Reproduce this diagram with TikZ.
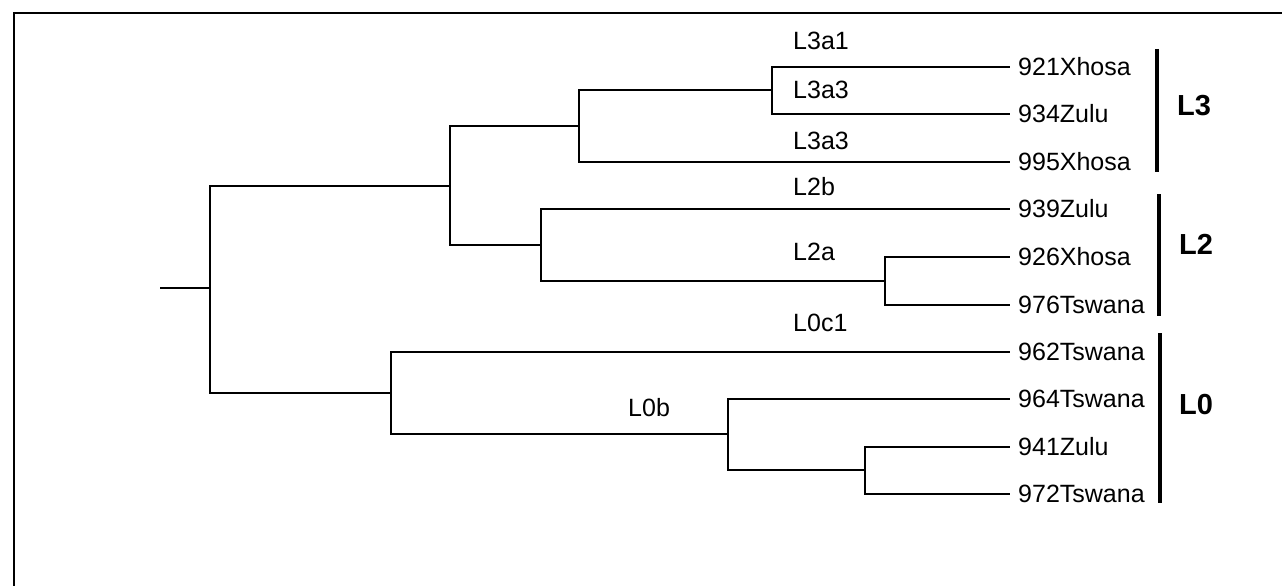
\documentclass[tikz,border=0pt]{standalone}
\usepackage{fontspec}
\setmainfont{Liberation Sans}
\begin{document}
\begin{tikzpicture}[x=1pt,y=-1pt,
  branch/.style={line width=1.8pt},
  frame/.style={line width=1.5pt},
  bar/.style={line width=3.2pt},
  leaf/.style={anchor=west,inner xsep=8pt,inner ysep=0pt,font=\fontsize{25}{30}\selectfont},
  clade/.style={anchor=west,inner sep=0pt,font=\fontsize{25}{30}\selectfont},
  group/.style={anchor=west,inner sep=0pt,font=\fontsize{29}{34}\selectfont\bfseries}]
\useasboundingbox (0,0) rectangle (1282,586);

% frame (top and left edges)
\coordinate (tl) at (14,13);
\coordinate (tr) at (1282,13);
\coordinate (bl) at (14,586);
\draw[frame] (tr) -- (tl) -- (bl);

% internal nodes of the tree
\coordinate (stub) at (160,288);
\coordinate (r)    at (210,288);
\coordinate (n1)   at (450,186);
\coordinate (n3)   at (579,126);
\coordinate (n3a)  at (772,90);
\coordinate (n2)   at (541,245);
\coordinate (n2a)  at (885,281);
\coordinate (n0)   at (391,393);
\coordinate (n0b)  at (728,434);
\coordinate (n0bb) at (865,470);

% leaves
\node[leaf] (l1)  at (1010,67)  {921Xhosa};
\node[leaf] (l2)  at (1010,114) {934Zulu};
\node[leaf] (l3)  at (1010,162) {995Xhosa};
\node[leaf] (l4)  at (1010,209) {939Zulu};
\node[leaf] (l5)  at (1010,257) {926Xhosa};
\node[leaf] (l6)  at (1010,305) {976Tswana};
\node[leaf] (l7)  at (1010,352) {962Tswana};
\node[leaf] (l8)  at (1010,399) {964Tswana};
\node[leaf] (l9)  at (1010,447) {941Zulu};
\node[leaf] (l10) at (1010,494) {972Tswana};

% branches
\draw[branch] (stub) -- (r);
\draw[branch] (r) |- (n1);
\draw[branch] (r) |- (n0);
\draw[branch] (n1) |- (n3);
\draw[branch] (n1) |- (n2);
\draw[branch] (n3) |- (n3a);
\draw[branch] (n3) |- (l3.west);
\draw[branch] (n3a) |- (l1.west);
\draw[branch] (n3a) |- (l2.west);
\draw[branch] (n2) |- (l4.west);
\draw[branch] (n2) |- (n2a);
\draw[branch] (n2a) |- (l5.west);
\draw[branch] (n2a) |- (l6.west);
\draw[branch] (n0) |- (l7.west);
\draw[branch] (n0) |- (n0b);
\draw[branch] (n0b) |- (l8.west);
\draw[branch] (n0b) |- (n0bb);
\draw[branch] (n0bb) |- (l9.west);
\draw[branch] (n0bb) |- (l10.west);

% haplogroup labels on branches
\node[clade] (c1) at (793,41)  {L3a1};
\node[clade] (c2) at (793,90)  {L3a3};
\node[clade] (c3) at (793,141) {L3a3};
\node[clade] (c4) at (793,187) {L2b};
\node[clade] (c5) at (793,252) {L2a};
\node[clade] (c6) at (793,323) {L0c1};
\node[clade] (c7) at (628,408) {L0b};

% group bars
\coordinate (b3t) at (1157,49);
\coordinate (b3b) at (1157,172);
\coordinate (b2t) at (1159,194);
\coordinate (b2b) at (1159,316);
\coordinate (b0t) at (1160,333);
\coordinate (b0b) at (1160,503);
\draw[bar] (b3t) -- (b3b);
\draw[bar] (b2t) -- (b2b);
\draw[bar] (b0t) -- (b0b);
\node[group] (g3) at (1177,106) {L3};
\node[group] (g2) at (1179,244) {L2};
\node[group] (g0) at (1179,405) {L0};
\end{tikzpicture}
\end{document}
